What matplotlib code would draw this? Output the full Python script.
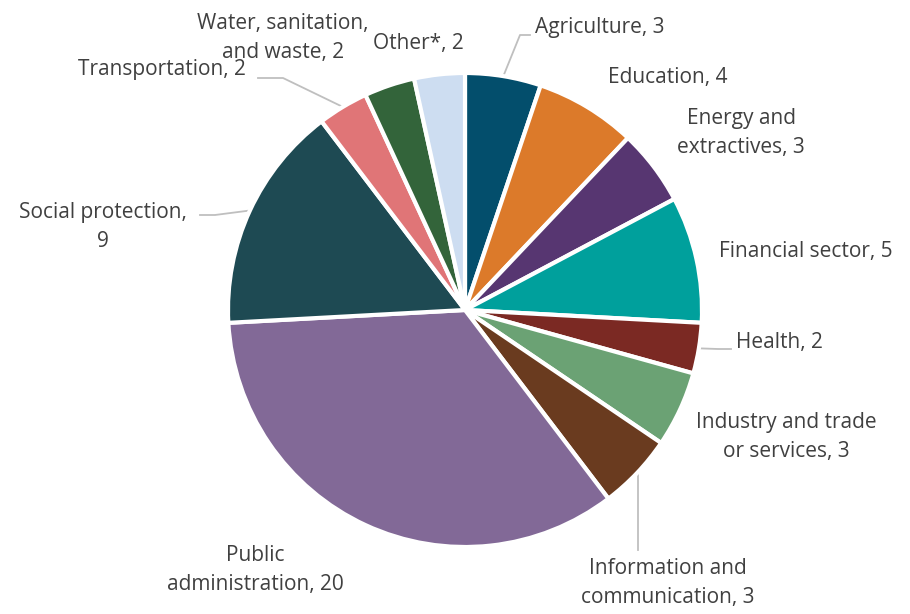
import matplotlib
matplotlib.use("Agg")
import matplotlib.pyplot as plt
import numpy as np

categories = ["Agriculture", "Education", "Energy and\nextractives", "Financial sector",
              "Health", "Industry and trade\nor services", "Information and\ncommunication",
              "Public\nadministration", "Social protection,\n9", "Transportation",
              "Water, sanitation,\nand waste", "Other*"]
values = [3, 4, 3, 5, 2, 3, 3, 20, 9, 2, 2, 2]
colors = ["#034E6C", "#DC7A2A", "#573671", "#00A09C", "#7B2923", "#6BA274",
          "#6A3B1F", "#826997", "#1E4A53", "#E07577", "#33643A", "#CDDDF1"]

W, H = 910, 614
cx, cy, R = 465, 310, 237

def d(px, py):
    return ((px - cx) / R, (cy - py) / R)

# label text anchor (pixel), alignment, and leader-line elbow points (pixel)
label_pos = [
    ((535, 28), "left", [(520, 35), (530, 35)]),
    ((668, 77), "center", None),
    ((741, 133), "center", None),
    ((719, 252), "left", None),
    ((736, 343), "left", [(718, 349), (731, 349)]),
    ((786, 437), "center", None),
    ((668, 583), "center", [(638, 550)]),
    ((255, 570), "center", None),
    ((103, 227), "center", [(215, 215), (200, 215)]),
    ((162, 70), "center", [(283, 78), (258, 78)]),
    ((283, 38), "center", None),
    ((418, 44), "center", None),
]

fig = plt.figure(figsize=(W / 100, H / 100), dpi=100)
ax = fig.add_axes([0, 0, 1, 1])

wedges, _ = ax.pie(values, colors=colors, startangle=90, counterclock=False,
                   radius=1.0, center=(0, 0),
                   wedgeprops=dict(edgecolor="white", linewidth=3))
ax.set_xlim(-cx / R, (W - cx) / R)
ax.set_ylim(-(H - cy) / R, cy / R)
ax.set_aspect("equal")
ax.axis("off")

font = ["Open Sans", "DejaVu Sans"]
tc = "#404040"
for w, cat, val, (pos, ha, leader) in zip(wedges, categories, values, label_pos):
    if "Social" in cat:
        txt = cat
    else:
        txt = f"{cat}, {val}"
    x, y = d(*pos)
    ax.text(x, y, txt, ha=ha, va="center", fontsize=15, color=tc,
            family=font, multialignment="center", linespacing=1.45)
    if leader:
        mid = np.deg2rad((w.theta1 + w.theta2) / 2)
        pts = [(np.cos(mid) * 1.0, np.sin(mid) * 1.0)] + [d(*p) for p in leader]
        if "Information" in cat:
            pts = [d(638, 475)] + [d(*p) for p in leader]
        xs, ys = zip(*pts)
        ax.plot(xs, ys, color="#BFBFBF", lw=1.3, zorder=0)

fig.savefig("out.png", dpi=100, facecolor="white")
